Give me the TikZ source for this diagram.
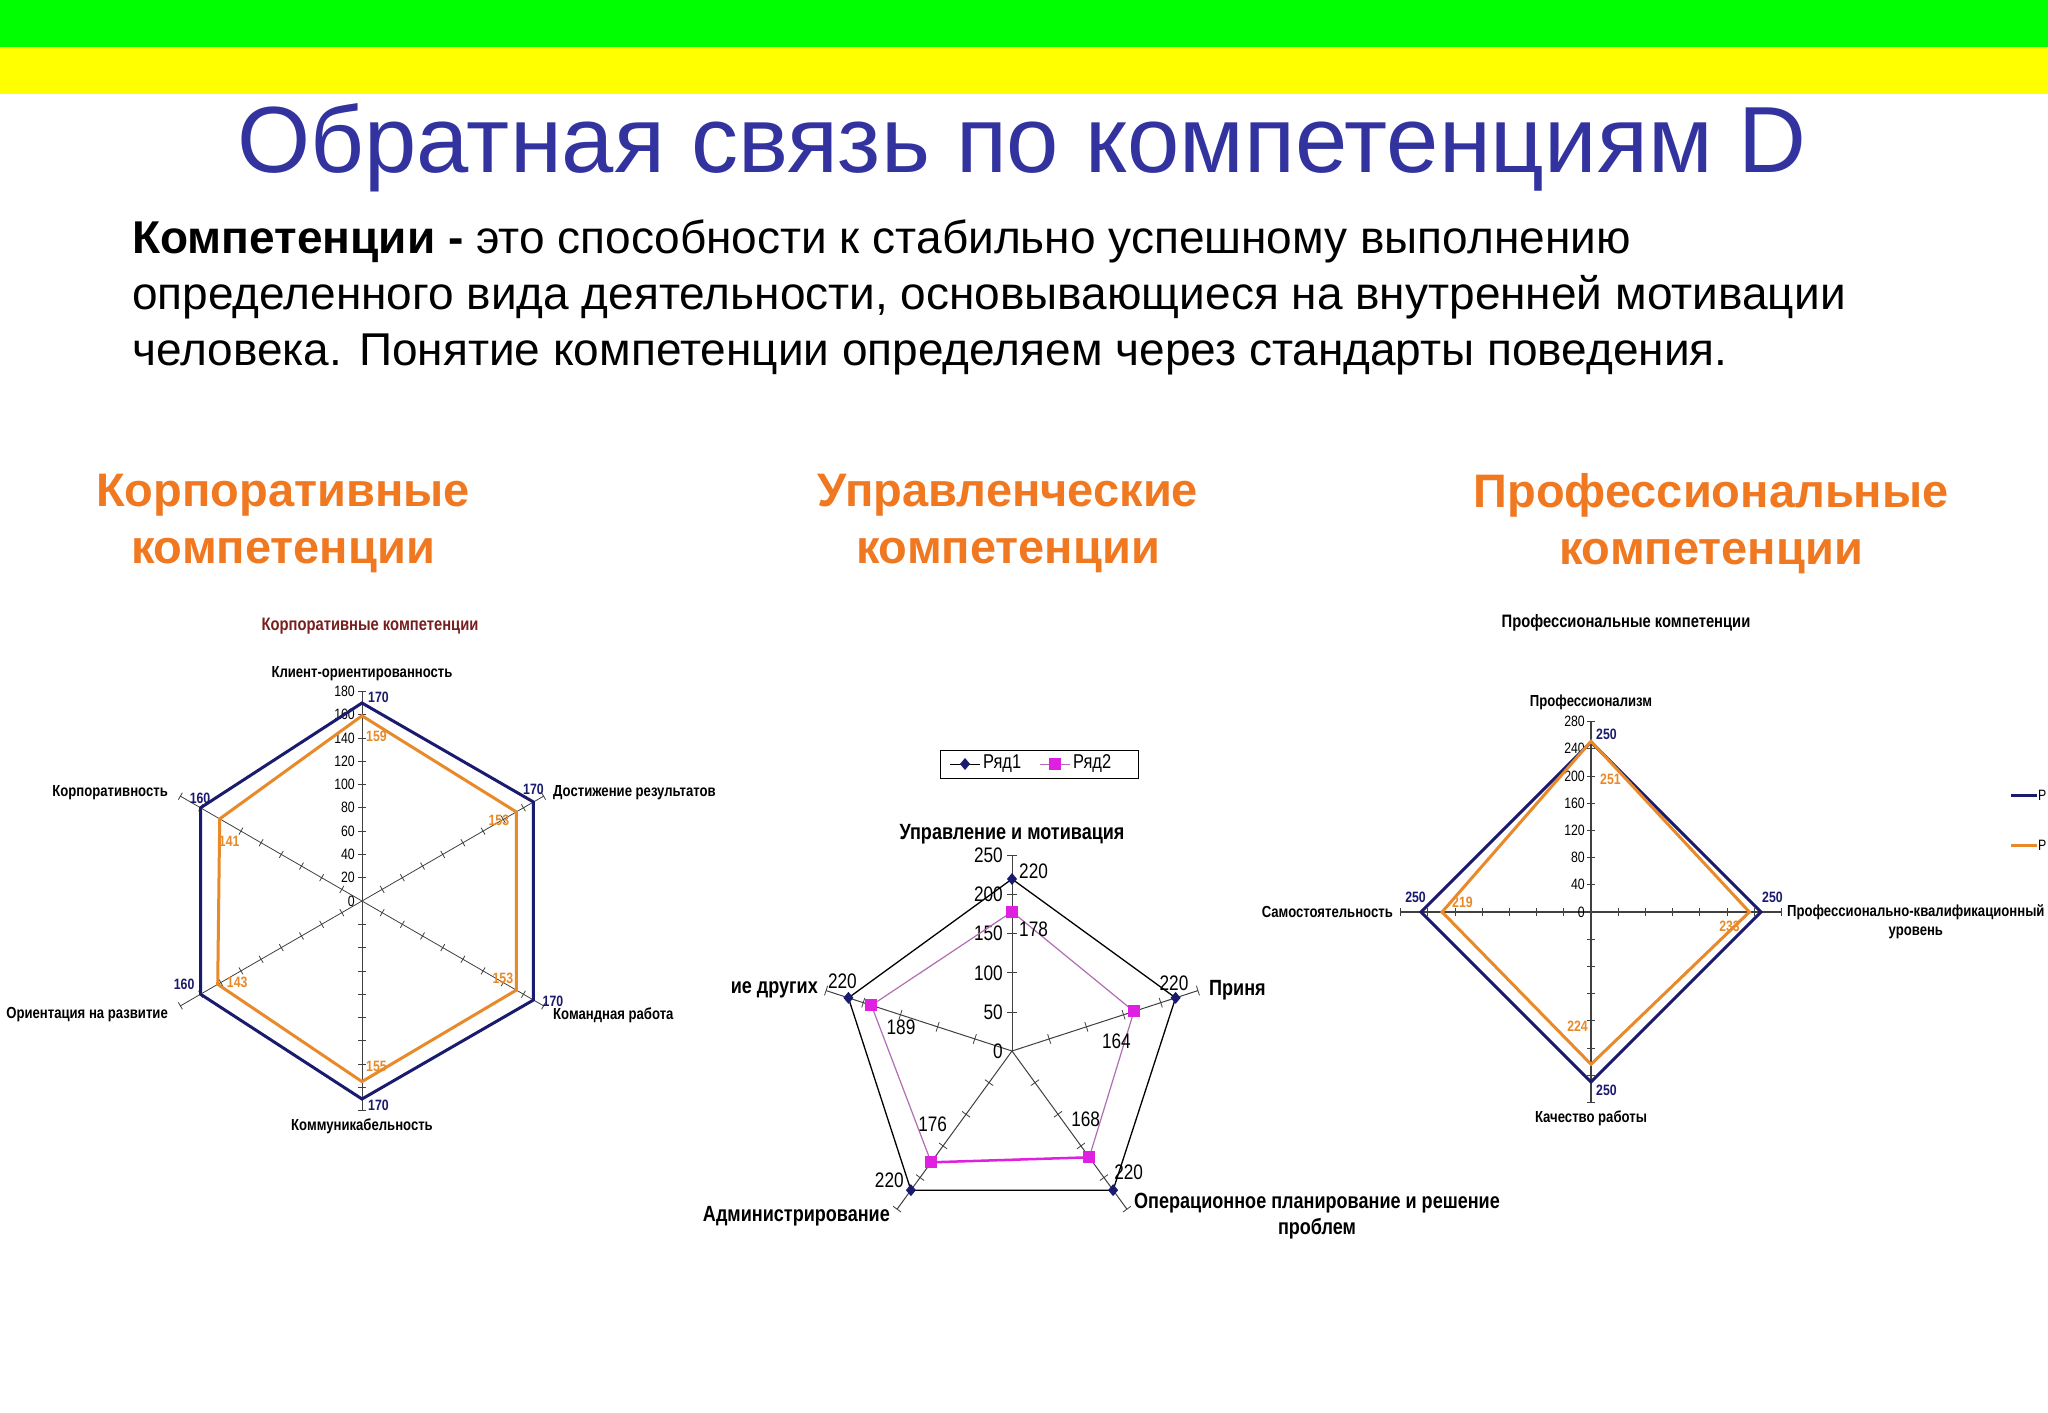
\documentclass[tikz,border=0pt]{standalone}
\usepackage{fontspec}
\setmainfont{Liberation Sans}
\newfontfamily\narrowfont[FakeStretch=0.82]{Liberation Sans}
\usetikzlibrary{calc}
\definecolor{titleblue}{RGB}{51,51,160}
\definecolor{headorange}{RGB}{240,120,32}
\definecolor{navy}{RGB}{26,26,110}
\definecolor{chorange}{RGB}{232,137,42}
\definecolor{darkred}{RGB}{120,30,30}
\definecolor{pinkline}{RGB}{176,110,176}
\definecolor{magent}{RGB}{224,32,224}
\tikzset{
  axisline/.style={draw=black!75,line width=0.8pt},
  lab/.style={font=\narrowfont\fontsize{16}{19}\selectfont\bfseries,inner sep=2pt},
  tlab/.style={font=\narrowfont\fontsize{15}{17}\selectfont,inner sep=1pt},
  navyline/.style={draw=navy,line width=3pt,line join=miter},
  orline/.style={draw=chorange,line width=3pt,line join=miter},
  bval/.style={font=\narrowfont\fontsize{15}{17}\selectfont\bfseries,text=navy,inner sep=1pt},
  oval/.style={font=\narrowfont\fontsize{15}{17}\selectfont\bfseries,text=chorange,inner sep=1pt},
  head/.style={font=\fontsize{47}{57}\selectfont\bfseries,text=headorange,align=center},
}
\begin{document}
\begin{tikzpicture}[x=1pt,y=1pt]
\useasboundingbox (0,0) rectangle (2048,-1413);
\fill[white] (0,0) rectangle (2048,-1413);
\fill[fill={rgb,255:red,0;green,255;blue,0}] (0,0) rectangle (2048,-47);
\fill[fill={rgb,255:red,255;green,255;blue,0}] (0,-47) rectangle (2048,-94);
\node (title) at (1022,-148) {\fontsize{94}{100}\selectfont\color{titleblue}Обратная связь по компетенциям D};
\node[anchor=north west,align=left,inner sep=0pt,font=\fontsize{46}{56}\selectfont] (para) at (132,-220)
 {\textbf{Компетенции -} это способности к стабильно успешному выполнению\\
 определенного вида деятельности, основывающиеся на внутренней мотивации\\
 человека. Понятие компетенции определяем через стандарты поведения.};
\node[head] (h1) at (283,-524) {Корпоративные\\компетенции};
\node[head] (h2) at (1008,-524) {Управленческие\\компетенции};
\node[head] (h3) at (1711,-524) {Профессиональные\\компетенции};

% ---------- chart 1
\node[lab,text=darkred,font=\narrowfont\fontsize{18}{20}\selectfont\bfseries] (c1t) at (370,-626) {Корпоративные компетенции};
\begin{scope}[shift={(362,-901)}]
\coordinate (c1) at (0,0);
\foreach \a in {90,30,-30,-90,-150,150}{
  \draw[axisline] (0,0) -- (\a:210);
  \foreach \k in {1,...,9}
    \draw[axisline] ($(\a:\k*23.3)+(\a+90:4)$) -- ($(\a:\k*23.3)+(\a-90:4)$);
}
\foreach \k in {0,...,9}{
  \pgfmathtruncatemacro\v{\k*20}
  \node[tlab,anchor=east] at (-6,\k*23.3) {\v};
}
\draw[orline] (90:185.2) -- (30:178.2) -- (-30:178.2) -- (-90:180.6) -- (-150:166.6) -- (150:164.3) -- cycle;
\draw[navyline] (90:198) -- (30:198) -- (-30:198) -- (-90:198) -- (-150:186.4) -- (150:186.4) -- cycle;
\node[bval,anchor=west] at (5,204) {170};
\node[bval,anchor=south] at ($(30:198)+(0,6)$) {170};
\node[bval,anchor=south west] at ($(-30:198)+(8,-8)$) {170};
\node[bval,anchor=west] at (5,-204) {170};
\node[bval,anchor=south east] at ($(-150:186.4)+(-5,3)$) {160};
\node[bval,anchor=south west] at ($(150:186.4)+(-12,3)$) {160};
\node[oval,anchor=west] at (3,165) {159};
\node[oval,anchor=east] at ($(30:178.2)+(-6,-8)$) {153};
\node[oval,anchor=east] at ($(-30:178.2)+(-2,12)$) {153};
\node[oval,anchor=west] at (3,-165) {155};
\node[oval,anchor=west] at ($(-150:166.6)+(8,2)$) {143};
\node[oval,anchor=west] at ($(150:164.3)+(-2,-22)$) {141};
\node[lab,anchor=south] (l11) at (0,218) {Клиент-ориентированность};
\node[lab,anchor=west] (l12) at (189,108) {Достижение результатов};
\node[lab,anchor=west] (l13) at (189,-114) {Командная работа};
\node[lab,anchor=north] (l14) at (0,-216) {Коммуникабельность};
\node[lab,anchor=east] (l15) at (-192,-114) {Ориентация на развитие};
\node[lab,anchor=east] (l16) at (-192,108) {Корпоративность};
\end{scope}

% ---------- chart 2
\node[draw,line width=1pt,minimum width=198pt,minimum height=28pt] (leg) at (1039,-764) {};
\draw[black,line width=1pt] (950,-764) -- (980,-764);
\fill[navy] (965,-758) -- (970,-764) -- (965,-770) -- (960,-764) -- cycle;
\node[tlab,font=\narrowfont\fontsize{20}{22}\selectfont,anchor=west] (r1) at (982,-764) {Ряд1};
\draw[pinkline,line width=1pt] (1040,-764) -- (1070,-764);
\fill[magent] (1049,-758) rectangle (1061,-770);
\node[tlab,font=\narrowfont\fontsize{20}{22}\selectfont,anchor=west] (r2) at (1072,-764) {Ряд2};
\begin{scope}[shift={(1012,-1051)}]
\coordinate (c2) at (0,0);
\foreach \a in {90,18,-54,-126,162}{
  \draw[axisline,line width=1pt] (0,0) -- (\a:195.5);
  \foreach \k in {1,...,5}
    \draw[axisline] ($(\a:\k*39.1)+(\a+90:5)$) -- ($(\a:\k*39.1)+(\a-90:5)$);
}
\tikzset{vv/.style={tlab,font=\narrowfont\fontsize{21}{23}\selectfont}}
\foreach \k in {0,...,5}{
  \pgfmathtruncatemacro\v{\k*50}
  \node[vv,anchor=east] at (-8,\k*39.1) {\v};
}
\draw[black,line width=1.3pt] (90:172) -- (18:172) -- (-54:172) -- (-126:172) -- (162:172) -- cycle;
\draw[pinkline,line width=1.2pt] (90:139.2) -- (18:128.2) -- (-54:131.4) -- (-126:137.6) -- (162:147.8) -- cycle;
\draw[magent,line width=2.5pt] (-54:131.4) -- (-126:137.6);
\foreach \a in {90,18,-54,-126,162}
  \fill[navy] ($(\a:172)+(0,6)$) -- ($(\a:172)+(5,0)$) -- ($(\a:172)+(0,-6)$) -- ($(\a:172)+(-5,0)$) -- cycle;
\foreach \a/\r in {90/139.2,18/128.2,-54/131.4,-126/137.6,162/147.8}
  \fill[magent] ($(\a:\r)+(-6,-6)$) rectangle ($(\a:\r)+(6,6)$);
\node[vv,anchor=west] at (6,180) {220};
\node[vv,anchor=west] at (6,122) {178};
\node[vv,anchor=south east] at ($(18:172)+(14,6)$) {220};
\node[vv,anchor=east] at ($(18:128.2)+(-2,-30)$) {164};
\node[vv,anchor=west] at ($(-54:172)+(0,18)$) {220};
\node[vv,anchor=east] at ($(-54:131.4)+(12,38)$) {168};
\node[vv,anchor=east] at ($(-126:172)+(-6,10)$) {220};
\node[vv,anchor=west] at ($(-126:137.6)+(-14,38)$) {176};
\node[vv,anchor=south] at ($(162:172)+(-6,8)$) {220};
\node[vv,anchor=west] at ($(162:147.8)+(14,-22)$) {189};
\tikzset{ll/.style={lab,font=\narrowfont\fontsize{22}{26}\selectfont\bfseries}}
\node[ll,anchor=south] (l21) at (0,205) {Управление и мотивация};
\node[ll,anchor=west] (l22) at (195,61) {Приня};
\node[ll,anchor=east] (l25) at (-192,61) {ие других};
\node[ll,anchor=east] (l24) at (-120,-165) {Администрирование};
\node[ll,anchor=north west,align=center] (l23) at (120,-140) {Операционное планирование и решение\\проблем};
\end{scope}

% ---------- chart 3
\node[lab,font=\narrowfont\fontsize{18}{20}\selectfont\bfseries] (c3t) at (1626,-623) {Профессиональные компетенции};
\begin{scope}[shift={(1591,-912)}]
\coordinate (c3) at (0,0);
\draw[axisline,line width=1.3pt] (0,190) -- (0,-190);
\draw[axisline,line width=1.3pt] (-190,0) -- (190,0);
\foreach \k in {-7,...,7}{
  \draw[axisline] (-4,\k*27.2) -- (4,\k*27.2);
  \draw[axisline] (\k*27.2,-4) -- (\k*27.2,4);
}
\foreach \k in {0,...,7}{
  \pgfmathtruncatemacro\v{\k*40}
  \node[tlab,anchor=east] at (-5,\k*27.2) {\v};
}
\draw[navyline] (0,170) -- (170,0) -- (0,-170) -- (-170,0) -- cycle;
\draw[orline] (0,170.7) -- (158.4,0) -- (0,-152.3) -- (-148.9,0) -- cycle;
\node[bval,anchor=west] at (4,178) {250};
\node[bval,anchor=south west] at (170,8) {250};
\node[bval,anchor=west] at (4,-178) {250};
\node[bval,anchor=south east] at (-164,8) {250};
\node[oval,anchor=west] at (8,133) {251};
\node[oval,anchor=east] at (150,-14) {233};
\node[oval,anchor=east] at (-2,-114) {224};
\node[oval,anchor=west] at (-140,10) {219};
\node[lab,anchor=south] (l31) at (0,200) {Профессионализм};
\node[lab,anchor=west,align=center] (l32) at (194,-10) {Профессионально-квалификационный\\уровень};
\node[lab,anchor=north] (l33) at (0,-197) {Качество работы};
\node[lab,anchor=east] (l34) at (-196,0) {Самостоятельность};
\end{scope}
\draw[navy,line width=3pt] (2011,-795) -- (2037,-795);
\node[tlab,anchor=west] (p1) at (2037,-795) {Р};
\draw[chorange,line width=3pt] (2011,-845) -- (2037,-845);
\node[tlab,anchor=west] (p2) at (2037,-845) {Р};
\end{tikzpicture}
\end{document}
